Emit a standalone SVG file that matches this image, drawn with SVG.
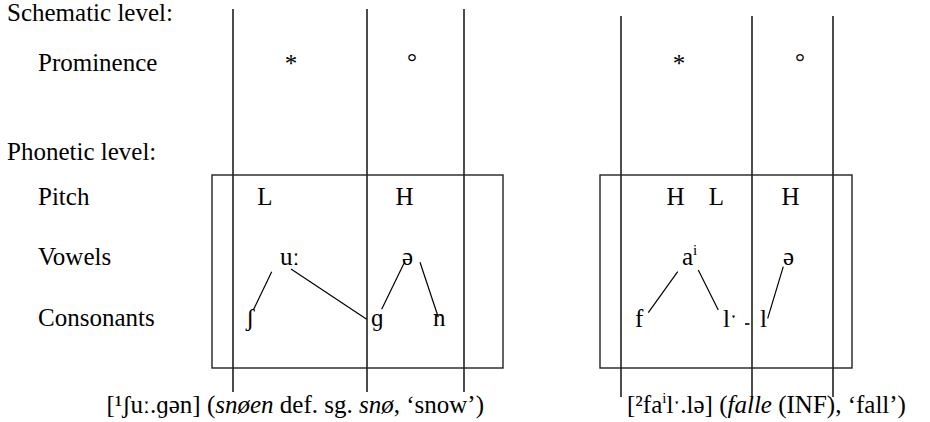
<svg xmlns="http://www.w3.org/2000/svg" width="930" height="422" viewBox="0 0 930 422">
<style>
text{font-family:"Liberation Serif","DejaVu Serif",serif;font-size:25px;fill:#000}
.ln{stroke:#000;stroke-width:1.4;fill:none}
.bx{stroke:#222;stroke-width:1.4;fill:none}
.as{stroke:#000;stroke-width:1.2;fill:none}
.it{font-style:italic}
</style>
<rect width="930" height="422" fill="#fff"/>
<g id="row-labels">
<text x="7" y="21">Schematic level:</text>
<text x="38" y="71">Prominence</text>
<text x="7" y="160">Phonetic level:</text>
<text x="38" y="205">Pitch</text>
<text x="38" y="265">Vowels</text>
<text x="38" y="326">Consonants</text>
</g>
<g id="frames">
<line class="ln" x1="233" y1="9" x2="233" y2="392"/>
<line class="ln" x1="367" y1="9" x2="367" y2="392"/>
<line class="ln" x1="464" y1="9" x2="464" y2="392"/>
<rect class="bx" x="212" y="175" width="291" height="193"/>
<line class="ln" x1="621" y1="16" x2="621" y2="397"/>
<line class="ln" x1="752" y1="16" x2="752" y2="397"/>
<line class="ln" x1="833" y1="16" x2="833" y2="397"/>
<rect class="bx" x="600" y="175" width="252" height="193"/>
</g>
<g id="left-word">
<g id="l-star"><text x="291" y="72" text-anchor="middle">*</text></g>
<g id="l-deg"><text x="412" y="70" text-anchor="middle">°</text></g>
<g id="l-L"><text x="265" y="205" text-anchor="middle">L</text></g>
<g id="l-H"><text x="404.5" y="205" text-anchor="middle">H</text></g>
<g id="l-u"><text x="280" y="265">uː</text></g>
<g id="l-schwa"><text x="402" y="265">ə</text></g>
<g id="l-sh"><text x="246" y="326">ʃ</text></g>
<g id="l-g"><text x="371" y="326">ɡ</text></g>
<g id="l-n"><text x="433" y="326">n</text></g>
</g>
<g id="right-word">
<g id="r-star"><text x="679" y="72" text-anchor="middle">*</text></g>
<g id="r-deg"><text x="800" y="70" text-anchor="middle">°</text></g>
<g id="r-H1"><text x="675.5" y="205" text-anchor="middle">H</text></g>
<g id="r-L"><text x="716.5" y="205" text-anchor="middle">L</text></g>
<g id="r-H2"><text x="790.5" y="205" text-anchor="middle">H</text></g>
<g id="r-ai"><text x="682" y="265">a<tspan font-size="15" dy="-10">i</tspan></text></g>
<g id="r-schwa"><text x="783" y="265">ə</text></g>
<g id="r-f"><text x="635" y="327">f</text></g>
<g id="r-l1"><text x="723" y="327">lˑ</text></g>
<g id="r-l2"><text x="760" y="327">l</text></g>
</g>
<g id="connectors">
<line class="as" x1="271.7" y1="271.7" x2="253.3" y2="310"/>
<line class="as" x1="291" y1="269" x2="366.7" y2="319.3"/>
<line class="as" x1="404" y1="263.3" x2="381.7" y2="309.3"/>
<line class="as" x1="420" y1="262.3" x2="438.3" y2="317.3"/>
<line class="as" x1="677.7" y1="271.7" x2="648.3" y2="312.7"/>
<line class="as" x1="698.3" y1="270" x2="718.3" y2="310"/>
<line class="as" x1="783.3" y1="266.7" x2="767.7" y2="318.3"/>
<line stroke="#000" stroke-width="1.6" x1="745" y1="324" x2="749.5" y2="324"/>
</g>
<g id="captions">
<text x="484" y="413" text-anchor="end">[¹ʃuː.ɡən] (<tspan class="it">snøen</tspan> def. sg. <tspan class="it">snø</tspan>, ‘snow’)</text>
<text x="627" y="413">[²fa<tspan font-size="15" dy="-10">i</tspan><tspan dy="10">lˑ.lə] (</tspan><tspan class="it">falle</tspan> (INF), ‘fall’)</text>
</g>
</svg>
